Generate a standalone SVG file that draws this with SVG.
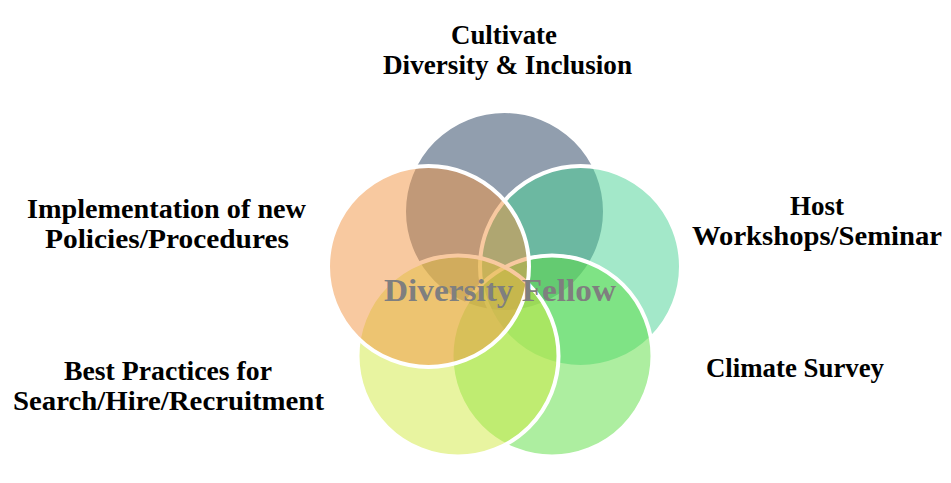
<svg xmlns="http://www.w3.org/2000/svg" width="951" height="483" viewBox="0 0 951 483">
  <style>
    .c { stroke: #FFFFFF; stroke-width: 4; fill-opacity: 0.5; }
    .lbl { font-family: "Liberation Serif", "Times New Roman", serif; font-weight: bold; font-size: 27px; fill: #000000; text-anchor: middle; }
    .center { font-family: "Liberation Serif", "Times New Roman", serif; font-weight: bold; font-size: 31px; fill: #7F7F7F; text-anchor: middle; }
  </style>
  <rect x="0" y="0" width="951" height="483" fill="#FFFFFF"/>
  <g id="connectors"/>
  <g id="node-cultivate">
    <circle class="c" cx="504.5" cy="211.5" r="100.5" fill="#233D5D"/>
    <text class="lbl" x="504" y="44" textLength="106" lengthAdjust="spacingAndGlyphs">Cultivate</text>
    <text class="lbl" x="507.5" y="74" textLength="249" lengthAdjust="spacingAndGlyphs">Diversity &amp; Inclusion</text>
  </g>
  <g id="node-workshops">
    <circle class="c" cx="580.5" cy="266.5" r="100.5" fill="#47D193"/>
    <text class="lbl" x="817" y="215" textLength="54" lengthAdjust="spacingAndGlyphs">Host</text>
    <text class="lbl" x="817" y="245" textLength="250" lengthAdjust="spacingAndGlyphs">Workshops/Seminar</text>
  </g>
  <g id="node-climate">
    <circle class="c" cx="552" cy="356" r="100.5" fill="#5BDD41"/>
    <text class="lbl" x="795" y="377" textLength="178" lengthAdjust="spacingAndGlyphs">Climate Survey</text>
  </g>
  <g id="node-bestpractices">
    <circle class="c" cx="458" cy="356" r="100.5" fill="#D1E941"/>
    <text class="lbl" x="168" y="380" textLength="208" lengthAdjust="spacingAndGlyphs">Best Practices for</text>
    <text class="lbl" x="168.5" y="410" textLength="311" lengthAdjust="spacingAndGlyphs">Search/Hire/Recruitment</text>
  </g>
  <g id="node-policies">
    <circle class="c" cx="428.5" cy="266.5" r="100.5" fill="#F19341"/>
    <text class="lbl" x="166.5" y="218" textLength="279" lengthAdjust="spacingAndGlyphs">Implementation of new</text>
    <text class="lbl" x="167" y="248" textLength="244" lengthAdjust="spacingAndGlyphs">Policies/Procedures</text>
  </g>
  <g id="node-center">
    <text class="center" x="500" y="301" textLength="232" lengthAdjust="spacingAndGlyphs">Diversity Fellow</text>
  </g>
</svg>
